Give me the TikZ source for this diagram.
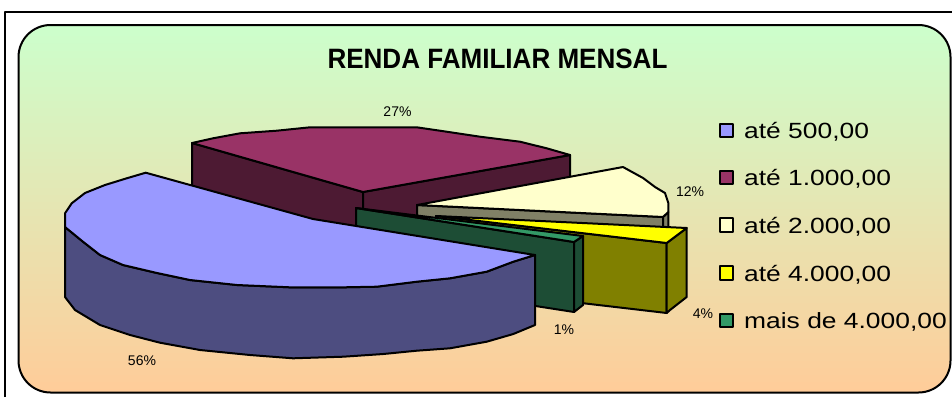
\documentclass[tikz,border=0pt]{standalone}
\usepackage{fontspec}
\setmainfont{Liberation Sans}
\usepackage{graphicx}
\definecolor{bgtop}{HTML}{CCFFCC}
\definecolor{bgbot}{HTML}{FFCC99}
\definecolor{blueTop}{HTML}{9999FF}
\definecolor{blueSide}{HTML}{4D4D80}
\definecolor{maroonTop}{HTML}{993366}
\definecolor{maroonSide}{HTML}{4D1A33}
\definecolor{creamTop}{HTML}{FFFFCC}
\definecolor{creamSide}{HTML}{808066}
\definecolor{yellowTop}{HTML}{FFFF00}
\definecolor{yellowSide}{HTML}{808000}
\definecolor{greenTop}{HTML}{339966}
\definecolor{greenSide}{HTML}{1D4D35}
\begin{document}
\begin{tikzpicture}[x=1pt,y=-1pt,line join=round,
  face/.style={draw=black,line width=2pt},
  pct/.style={font=\fontsize{14}{14}\selectfont,inner sep=0pt,anchor=base},
  legtext/.style={font=\fontsize{22}{22}\selectfont,inner sep=0pt,anchor=base west},
  legbox/.style={draw=black,line width=1.8pt,minimum size=13.5pt,inner sep=0pt}]
\useasboundingbox (0,0) rectangle (952,397);
\fill[white] (0,0) rectangle (952,397);
\draw[line width=1.2pt] (5,397) -- (5,12) -- (952,12);
\shade[top color=bgtop,bottom color=bgbot,rounded corners=32pt] (18.5,25) rectangle (950.5,392.5);
\draw[line width=2pt,rounded corners=32pt] (18.5,25) rectangle (950.5,392.5);

\node[font=\bfseries\fontsize{28}{28}\selectfont,anchor=base,inner sep=0pt] (title) at (497.5,68.3) {\scalebox{0.93}[1]{RENDA FAMILIAR MENSAL}};

% maroon slice (27%)
\filldraw[face,fill=maroonSide] (192,143) -- (363,192) -- (363,262) -- (192,213) -- cycle;
\filldraw[face,fill=maroonSide] (363,192) -- (570,155) -- (570,225) -- (363,262) -- cycle;
\filldraw[face,fill=maroonTop] (192,143) -- (363,192) -- (570,155) -- (546.7,148.3) -- (520,141.7) -- (480,136.7) -- (446.7,131.7) -- (416.7,127.3) -- (363,127.3) -- (310,127.3) -- (276.7,130.7) -- (240,133.3) -- (213,138.3) -- cycle;

% cream slice (12%)
\filldraw[face,fill=creamSide] (417,205) -- (663,217) -- (663,287) -- (417,275) -- cycle;
\filldraw[face,fill=creamSide] (663,217) -- (668.3,212) -- (668.3,282) -- (663,287) -- cycle;
\filldraw[face,fill=creamTop] (417,205) -- (623,167) -- (643,178) -- (655,187) -- (665,193) -- (668.3,203) -- (668.3,212) -- (663,217) -- cycle;

% yellow slice (4%)
\filldraw[face,fill=yellowSide] (436,216) -- (666.7,243) -- (666.7,313) -- (436,286) -- cycle;
\filldraw[face,fill=yellowSide] (666.7,243) -- (680,233) -- (686.7,228) -- (686.7,297) -- (670,310) -- (666.7,313) -- cycle;
\filldraw[face,fill=yellowTop] (436,216) -- (686.7,228) -- (680,233) -- (666.7,243) -- cycle;

% green slice (1%)
\filldraw[face,fill=greenSide] (356,208) -- (574,242) -- (574,312) -- (356,278) -- cycle;
\filldraw[face,fill=greenSide] (574,242) -- (583,236) -- (583,305) -- (574,312) -- cycle;
\filldraw[face,fill=greenTop] (356,208) -- (583,236) -- (574,242) -- cycle;

% blue slice (56%)
\filldraw[face,fill=blueSide] (535,255) -- (513.3,261.7) -- (486.7,271.7) -- (450,278.3) -- (416.7,281.7) -- (376.7,286.7) -- (343.3,287.3) -- (290,287.3) -- (237,285) -- (190,280) -- (157,273) -- (123,265) -- (100,255) -- (83,241.7) -- (65,227)
  -- (65,297) -- (75,310) -- (100,325) -- (130,335) -- (160,342.7) -- (200,350) -- (250,355) -- (293,358.3) -- (343.3,356.7) -- (383.3,354) -- (416.7,350.7) -- (450,348.3) -- (486.7,341.7) -- (513.3,334) -- (535,325) -- cycle;
\filldraw[face,fill=blueTop] (145.7,172.7) -- (313,219) -- (535,255) -- (513.3,261.7) -- (486.7,271.7) -- (450,278.3) -- (416.7,281.7) -- (376.7,286.7) -- (343.3,287.3) -- (290,287.3) -- (237,285) -- (190,280) -- (157,273) -- (123,265) -- (100,255) -- (83,241.7) -- (65,227) -- (65,213.3) -- (71.7,203.3) -- (85,193) -- (105,185) -- (126.7,178.3) -- cycle;

% percentage labels
\node[pct] (p27) at (397.5,116.7) {27\%};
\node[pct] (p12) at (690,196.7) {12\%};
\node[pct] (p4) at (703,318) {4\%};
\node[pct] (p1) at (564,334) {1\%};
\node[pct] (p56) at (142,365) {56\%};

% legend
\node[legbox,fill=blueTop] (k1) at (726.5,130.5) {};
\node[legbox,fill=maroonTop] (k2) at (726.5,177.5) {};
\node[legbox,fill=creamTop] (k3) at (726.5,225) {};
\node[legbox,fill=yellowTop] (k4) at (726.5,273) {};
\node[legbox,fill=greenTop] (k5) at (726.5,320.5) {};
\node[legtext] (t1) at (744,138.3) {\scalebox{1.2}[1]{até 500,00}};
\node[legtext] (t2) at (744,185.5) {\scalebox{1.2}[1]{até 1.000,00}};
\node[legtext] (t3) at (744,233.2) {\scalebox{1.2}[1]{até 2.000,00}};
\node[legtext] (t4) at (744,281.5) {\scalebox{1.2}[1]{até 4.000,00}};
\node[legtext] (t5) at (744,328.5) {\scalebox{1.2}[1]{mais de 4.000,00}};
\end{tikzpicture}
\end{document}
